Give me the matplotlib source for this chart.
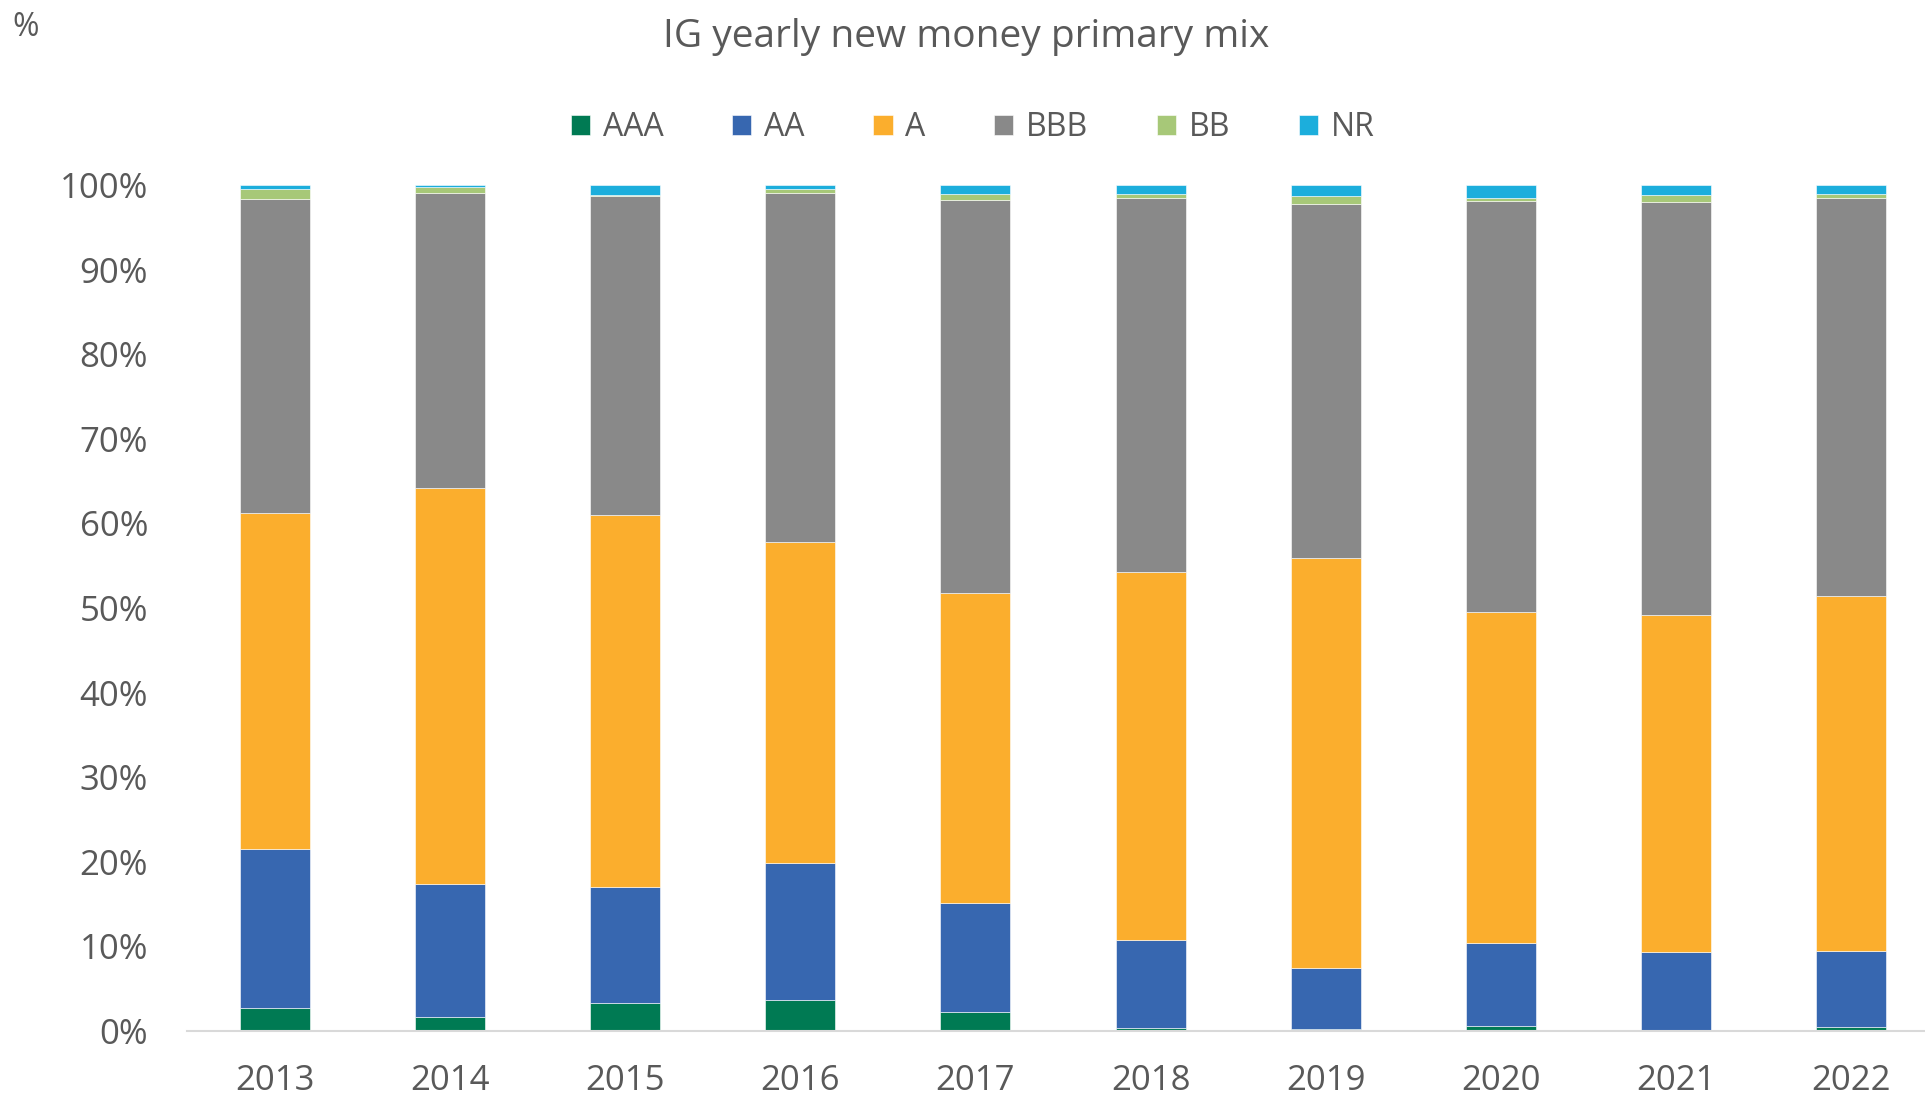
import matplotlib
matplotlib.use("Agg")
import matplotlib.pyplot as plt
import numpy as np

plt.rcParams['font.family'] = ['Open Sans', 'DejaVu Sans']

years = ["2013", "2014", "2015", "2016", "2017", "2018", "2019", "2020", "2021", "2022"]
aaa = [2.7, 1.65, 3.35, 3.7, 2.2, 0.3, 0.2, 0.55, 0.0, 0.45]
aa = [18.8, 15.75, 13.65, 16.2, 12.9, 10.4, 7.3, 9.85, 9.3, 8.95]
a = [39.7, 46.8, 44.0, 37.9, 36.7, 43.6, 48.4, 39.1, 39.9, 42.0]
bbb = [37.15, 34.85, 37.66, 41.25, 46.4, 44.2, 41.85, 48.57, 48.79, 47.03]
bb = [1.15, 0.67, 0.2, 0.44, 0.75, 0.47, 0.9, 0.39, 0.87, 0.55]
nr = [0.5, 0.27, 1.14, 0.5, 1.02, 0.98, 1.34, 1.54, 1.14, 1.02]

series = [("AAA", aaa, "#007A53"), ("AA", aa, "#3767B0"), ("A", a, "#FBAE2D"),
          ("BBB", bbb, "#898989"), ("BB", bb, "#A7C878"), ("NR", nr, "#1CAEDC")]

txt = "#595959"

fig = plt.figure(figsize=(19.25, 10.97), dpi=100)
ax = fig.add_axes([187 / 1925, 66 / 1097, 1 - 187 / 1925, (1031 - 185) / 1097])

x = np.arange(len(years))
bottom = np.zeros(len(years))
for name, vals, col in series:
    ax.bar(x, vals, 0.4, bottom=bottom, color=col, label=name,
           edgecolor="white", linewidth=0.4)
    bottom += np.array(vals)

ax.set_ylim(0, 100)
ax.set_xlim(-0.5, 9.42)
ax.set_yticks(np.arange(0, 101, 10))
ax.set_yticklabels([f"{v}%" for v in range(0, 101, 10)])
ax.set_xticks(x)
ax.set_xticklabels(years)
ax.tick_params(axis="both", length=0, labelsize=25, colors=txt)
ax.tick_params(axis="y", pad=28)
ax.tick_params(axis="x", pad=24)
for s in ["top", "right", "left"]:
    ax.spines[s].set_visible(False)
ax.spines["bottom"].set_color("#D9D9D9")
ax.spines["bottom"].set_linewidth(1.5)

fig.text(966 / 1925, 1 - 37 / 1097, "IG yearly new money primary mix",
         ha="center", va="center", fontsize=28, color=txt)
fig.text(12 / 1925, 1 - 28 / 1097, "%", ha="left", va="center", fontsize=23, color=txt)

leg = fig.legend(loc="center", bbox_to_anchor=(973 / 1925, 1 - 128 / 1097), ncol=6,
                 frameon=False, fontsize=23, handlelength=0.6, handleheight=0.6,
                 handletextpad=0.4, columnspacing=2.15, labelcolor=txt)

fig.savefig("out.png", dpi=100)
